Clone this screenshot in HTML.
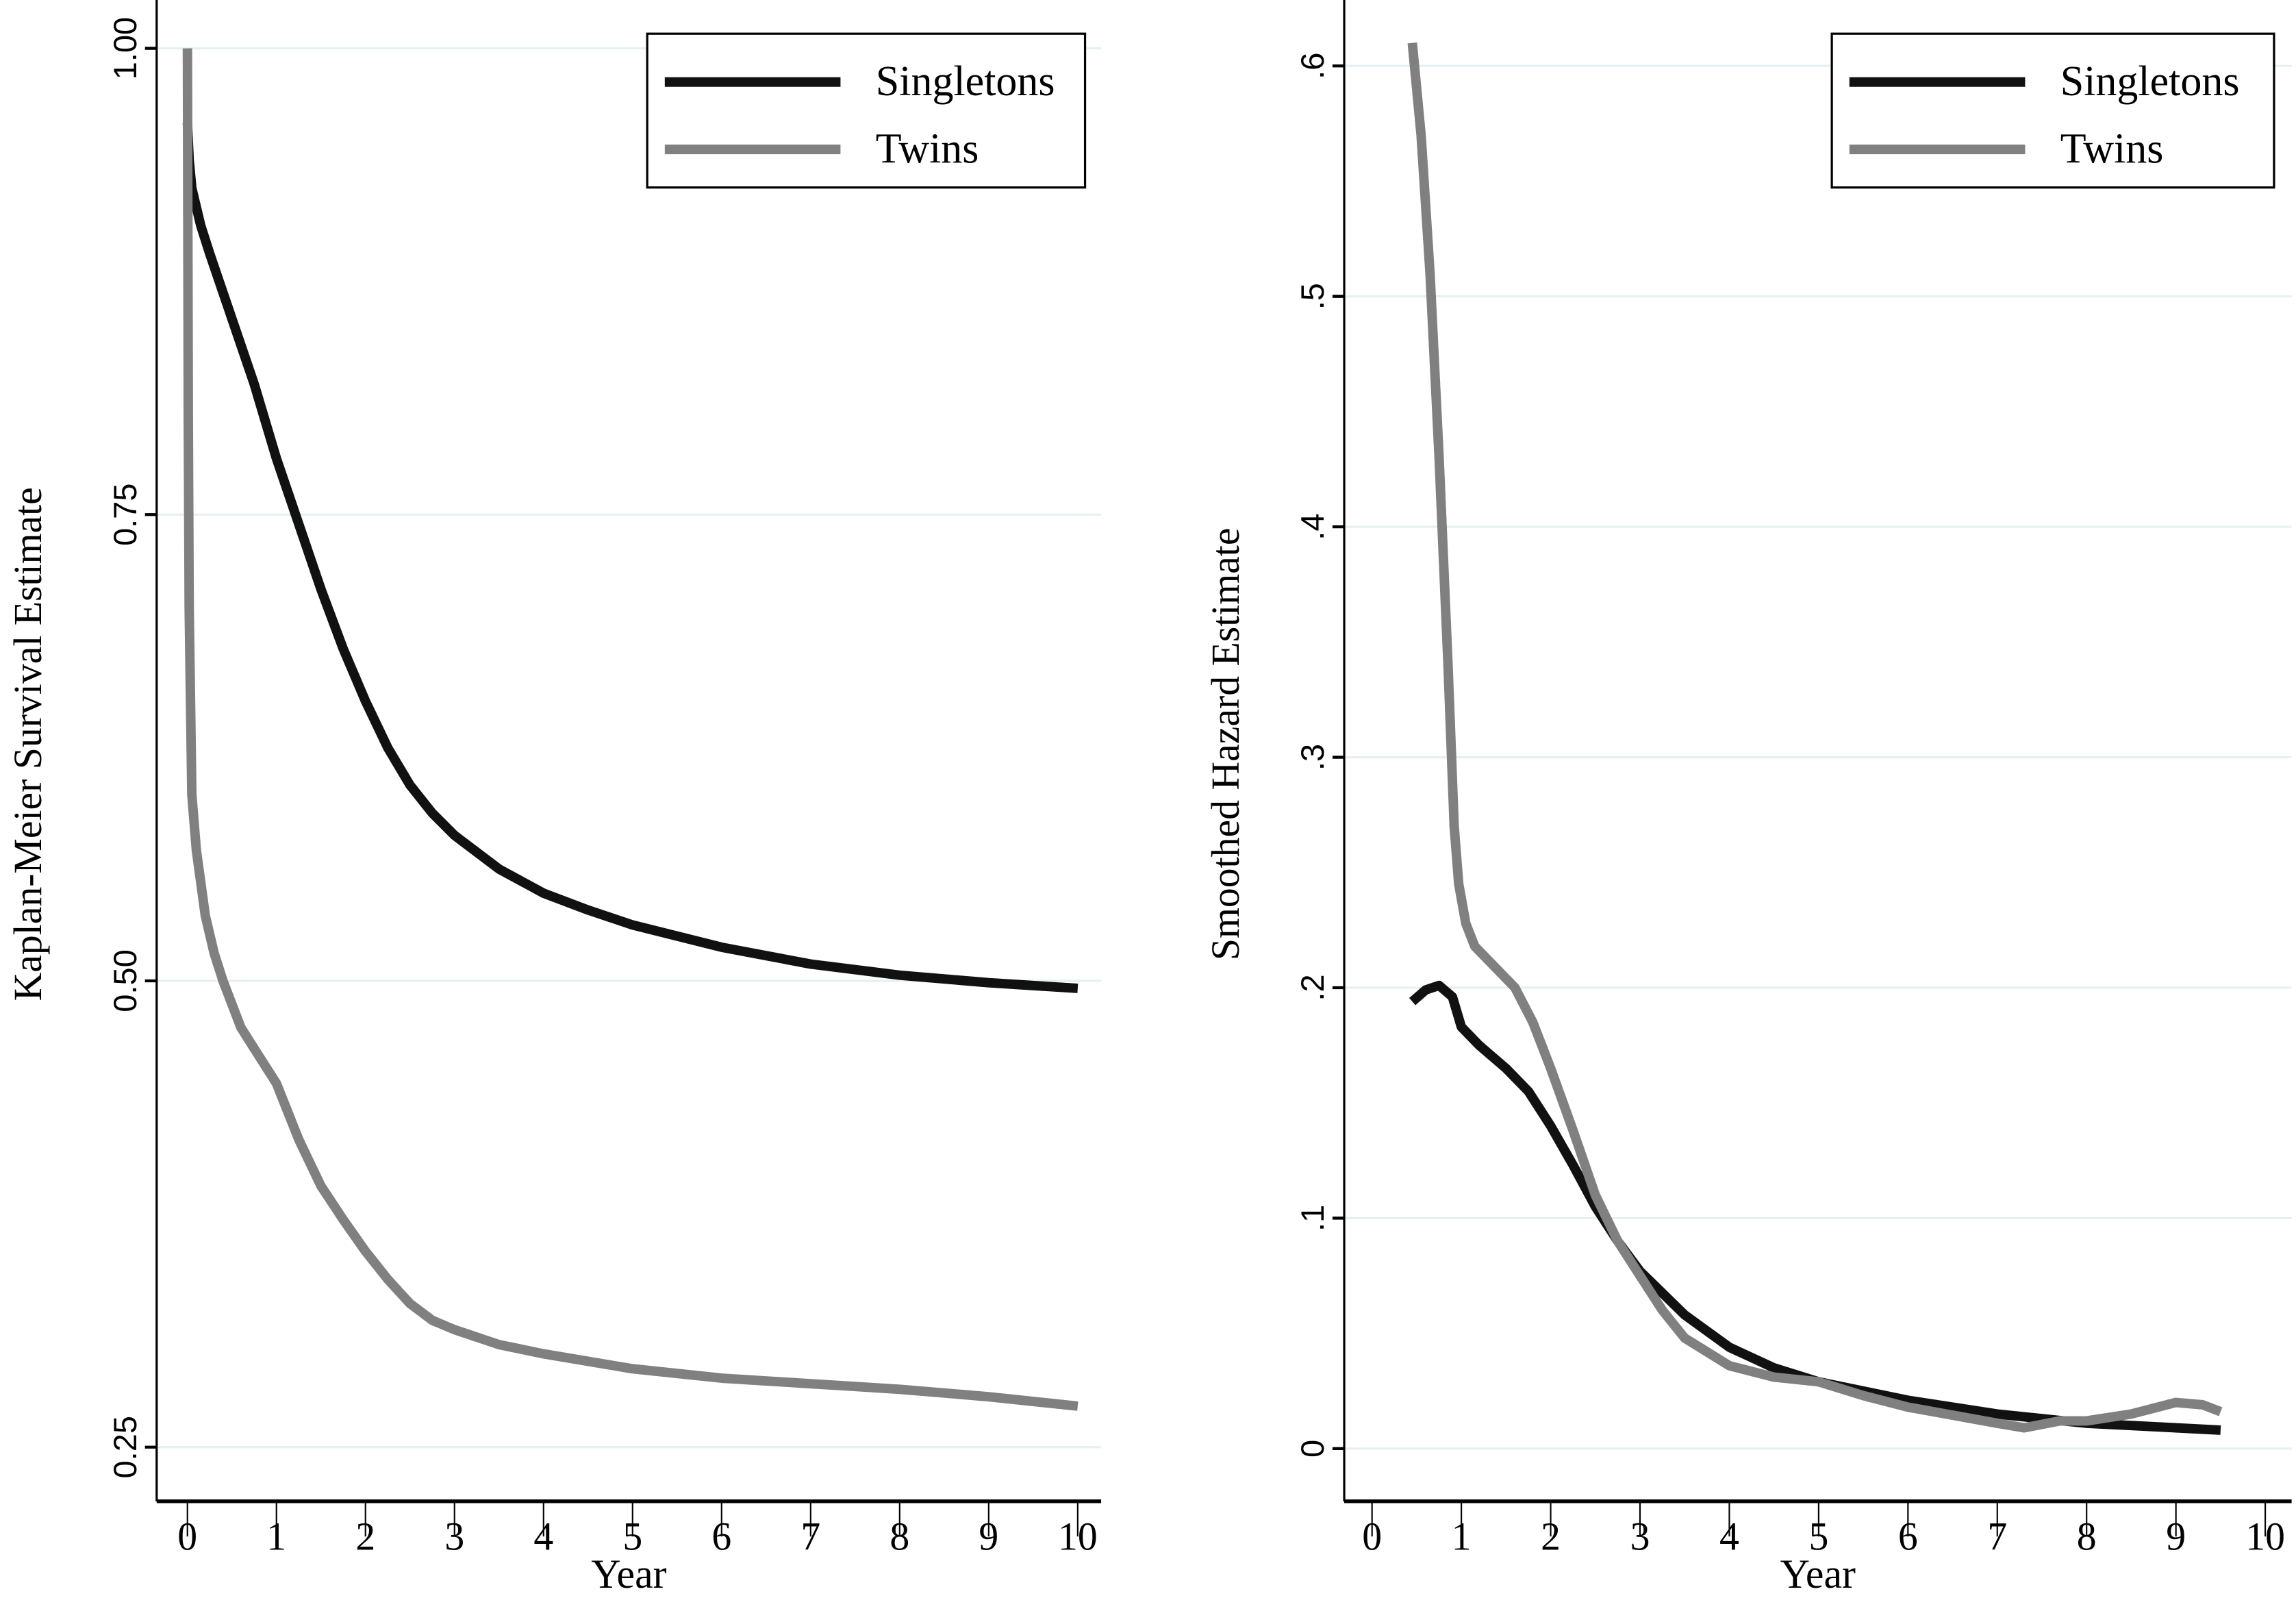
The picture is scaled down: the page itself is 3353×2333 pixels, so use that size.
<!DOCTYPE html>
<html><head><meta charset="utf-8"><style>
html,body{margin:0;padding:0;background:#fff}
svg{display:block}
text{font-family:"Liberation Serif",serif;fill:#000}
</style></head><body>
<svg id="chart" width="3353" height="2333" viewBox="0 0 1568 1091" xmlns="http://www.w3.org/2000/svg"></svg>
<script>
// ---- data ----
const kmYears = [0,0.02,0.05,0.15,0.25,0.5,0.75,1,1.25,1.5,1.75,2,2.25,2.5,2.75,3,3.5,4,4.5,5,6,7,8,9,10];
const kmSingletons = [0.96,0.94,0.925,0.905,0.89,0.855,0.82,0.78,0.745,0.71,0.678,0.65,0.625,0.605,0.59,0.578,0.56,0.547,0.538,0.53,0.518,0.509,0.503,0.499,0.496];
const kmTwinYears = [0,0.01,0.02,0.05,0.1,0.2,0.3,0.4,0.6,0.8,1,1.25,1.5,1.75,2,2.25,2.5,2.75,3,3.5,4,5,6,7,8,9,10];
const kmTwins = [1.0,0.8,0.7,0.6,0.57,0.535,0.515,0.5,0.475,0.46,0.445,0.415,0.39,0.372,0.355,0.34,0.327,0.318,0.313,0.305,0.3,0.292,0.287,0.284,0.281,0.277,0.272];
const hzSingYears = [0.45,0.6,0.75,0.9,1,1.2,1.5,1.75,2,2.25,2.5,2.75,3,3.5,4,4.5,5,6,7,8,9,9.5];
const hzSingletons = [0.194,0.199,0.201,0.196,0.183,0.175,0.165,0.155,0.14,0.123,0.105,0.09,0.077,0.058,0.044,0.035,0.029,0.021,0.015,0.011,0.009,0.008];
const hzTwinYears = [0.45,0.55,0.65,0.75,0.85,0.92,0.97,1.05,1.15,1.3,1.6,1.8,2,2.25,2.5,2.75,3,3.25,3.5,4,4.5,5,5.5,6,7,7.3,7.7,8,8.5,9,9.3,9.5];
const hzTwins = [0.61,0.57,0.51,0.43,0.34,0.27,0.245,0.228,0.218,0.212,0.2,0.185,0.165,0.138,0.11,0.09,0.075,0.06,0.048,0.036,0.031,0.029,0.023,0.018,0.011,0.009,0.012,0.012,0.015,0.02,0.019,0.016];
const xTicks = [0,1,2,3,4,5,6,7,8,9,10];
const kmYTicks = [0.25,0.5,0.75,1.0];
const kmYLabels = ["0.25","0.50","0.75","1.00"];
const hzYTicks = [0,0.1,0.2,0.3,0.4,0.5,0.6];
const hzYLabels = ["0",".1",".2",".3",".4",".5",".6"];

const NS="http://www.w3.org/2000/svg";
const svg=document.getElementById('chart');
function mk(tag,attrs,parent){const e=document.createElementNS(NS,tag);for(const k in attrs)e.setAttribute(k,attrs[k]);(parent||svg).appendChild(e);return e;}

function panel(o){
  const g=mk('g',{});
  
  
  const sx=v=>o.x0+(v-o.xmin)/(o.xmax-o.xmin)*(o.x1-o.x0);
  const sy=v=>o.y0-(v-o.ymin)/(o.ymax-o.ymin)*(o.y0-o.y1);
  o.yt.forEach((v,i)=>{
    const gl=mk('line',{x1:o.axX,x2:o.right,y1:sy(v),y2:sy(v),stroke:'#e6f0f2','stroke-width':1.5},g);
    
    
    mk('line',{x1:o.axX-8,x2:o.axX,y1:sy(v),y2:sy(v),stroke:'#000','stroke-width':2},g);
    const t=mk('text',{x:0,y:0,'font-size':22,'text-anchor':'middle',style:'font-family:"Liberation Sans",sans-serif',transform:`translate(${o.axX-14},${sy(v)}) rotate(-90)`},g);
    
    
    t.textContent=o.yl[i];
  });
  mk('line',{x1:o.axX,x2:o.axX,y1:0,y2:o.axY,stroke:'#000','stroke-width':1.5},g);
  mk('line',{x1:o.axX,x2:o.right,y1:o.axY,y2:o.axY,stroke:'#000','stroke-width':2.5},g);
  xTicks.forEach(v=>{
    mk('line',{x1:sx(v),x2:sx(v),y1:o.axY,y2:o.axY+24,stroke:'#000','stroke-width':1},g);
    const t=mk('text',{x:sx(v),y:o.axY+33,'font-size':27,'text-anchor':'middle'},g);
    
    
    t.textContent=v;
  });
  const xt=mk('text',{x:(o.axX+o.right)/2,y:1084,'font-size':28,'text-anchor':'middle'},g);
  
  
  xt.textContent='Year';
  const yt=mk('text',{x:0,y:0,'font-size':27,'text-anchor':'middle',transform:`translate(${o.titleX},${o.titleY}) rotate(-90)`},g);
  
  
  yt.textContent=o.ytitle;
  o.series.forEach(s=>{
    const d=s.xs.map((x,i)=>(i?'L':'M')+sx(x).toFixed(1)+','+sy(s.ys[i]).toFixed(1)).join(' ');
    const p=mk('path',{d:d,fill:'none',stroke:s.color,'stroke-width':6.5,'stroke-linejoin':'round'},g);
    
    
  });
  const lg=mk('g',{},g);
  
  
  mk('rect',{x:o.lx,y:23,width:o.lw,height:105,fill:'#fff',stroke:'#000','stroke-width':1.5},lg);
  [['Singletons','#111',56],['Twins','#808080',102]].forEach(([n,c,yy])=>{
    const e=mk('g',{},lg);
    
    
    mk('line',{x1:o.lx+12,x2:o.lx+132,y1:yy,y2:yy,stroke:c,'stroke-width':6.5},e);
    const t=mk('text',{x:o.lx+156,y:yy+9,'font-size':29},e);
    t.textContent=n;
  });
}

panel({name:'km-survival-panel',x0:128,x1:736,xmin:0,xmax:10,y0:988,y1:33,ymin:0.25,ymax:1.0,
  axX:107,axY:1025,right:752,titleX:28,titleY:508,ytitle:'Kaplan-Meier Survival Estimate',
  yt:kmYTicks,yl:kmYLabels,lx:442,lw:299,
  series:[{name:'km-singletons-line',xs:kmYears,ys:kmSingletons,color:'#111'},
          {name:'km-twins-line',xs:kmTwinYears,ys:kmTwins,color:'#808080'}]});
panel({name:'hazard-panel',x0:937,x1:1547,xmin:0,xmax:10,y0:989,y1:45,ymin:0,ymax:0.6,
  axX:918,axY:1025,right:1565,titleX:846,titleY:508,ytitle:'Smoothed Hazard Estimate',
  yt:hzYTicks,yl:hzYLabels,lx:1251,lw:302,
  series:[{name:'hazard-singletons-line',xs:hzSingYears,ys:hzSingletons,color:'#111'},
          {name:'hazard-twins-line',xs:hzTwinYears,ys:hzTwins,color:'#808080'}]});
</script>
</body></html>
